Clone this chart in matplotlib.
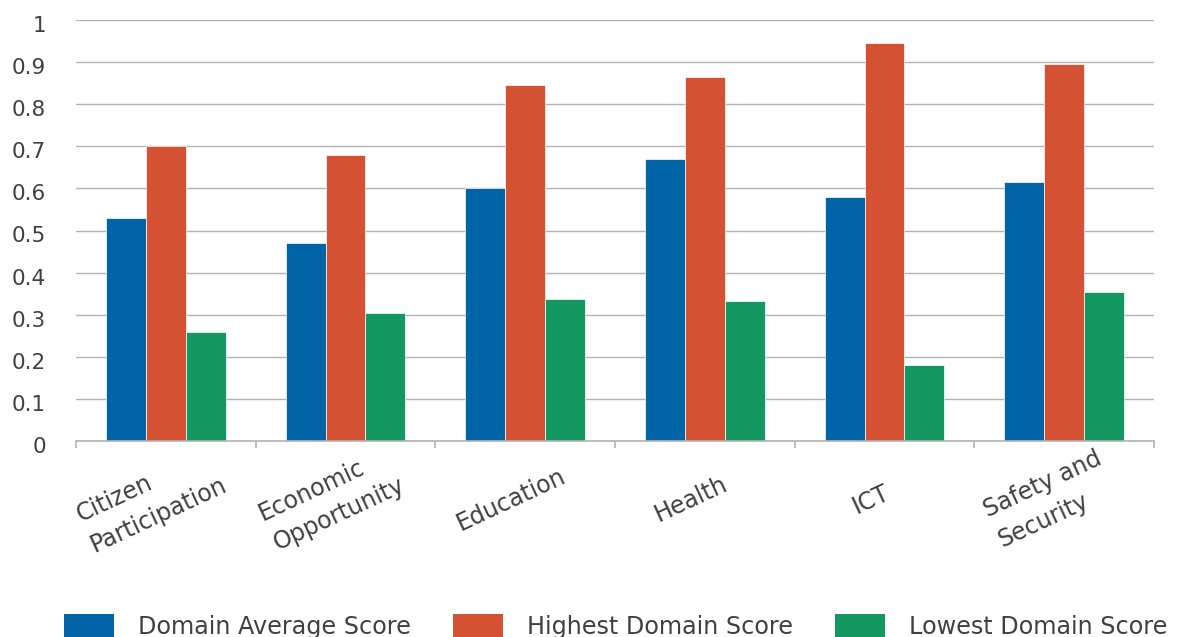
import matplotlib
matplotlib.use("Agg")
import matplotlib.pyplot as plt
import matplotlib.transforms as mtransforms
from matplotlib.patches import Patch
import numpy as np

categories = ["Citizen\nParticipation", "Economic\nOpportunity", "Education",
              "Health", "ICT", "Safety and\nSecurity"]
avg_scores = [0.53, 0.47, 0.60, 0.67, 0.58, 0.615]
high_scores = [0.70, 0.68, 0.845, 0.865, 0.945, 0.895]
low_scores = [0.26, 0.305, 0.337, 0.333, 0.18, 0.355]
series_names = ["Domain Average Score", "Highest Domain Score", "Lowest Domain Score"]
y_ticks = [0, 0.1, 0.2, 0.3, 0.4, 0.5, 0.6, 0.7, 0.8, 0.9, 1]
y_tick_labels = ["0", "0.1", "0.2", "0.3", "0.4", "0.5", "0.6", "0.7", "0.8", "0.9", "1"]

colors = ["#0064A7", "#D45233", "#139862"]
text_color = "#404040"
grid_color = "#B3B3B3"

plt.rcParams['font.family'] = ['DejaVu Sans']

fig = plt.figure(figsize=(11.85, 6.37), dpi=100)
ax = fig.add_axes([76/1185, 1-441/637, (1154-76)/1185, (441-20)/637])

x = np.arange(len(categories))
w = 0.2226
series = [avg_scores, high_scores, low_scores]
for k, (vals, col) in enumerate(zip(series, colors)):
    ax.bar(x + (k-1)*w, vals, width=w, color=col, edgecolor="white",
           linewidth=0.5, zorder=3)

ax.set_xlim(-0.5, len(categories)-0.5)
ax.set_ylim(0, 1.0)
ax.set_yticks(y_ticks)
ax.set_yticklabels(y_tick_labels)
ax.yaxis.grid(True, color=grid_color, linewidth=1.0, zorder=0)
ax.set_axisbelow(True)
for s in ["top", "right", "left"]:
    ax.spines[s].set_visible(False)
ax.spines["bottom"].set_color(grid_color)
ax.spines["bottom"].set_linewidth(1.2)
ax.spines["bottom"].set_zorder(4)

ax.tick_params(axis="y", length=0, pad=21.6, labelsize=15.5, labelcolor=text_color)
yoff = mtransforms.ScaledTranslation(0, -4/100, fig.dpi_scale_trans)
for lab in ax.get_yticklabels():
    lab.set_transform(lab.get_transform() + yoff)

ax.set_xticks(x)
ax.set_xticklabels(categories, rotation=25, ha="center", va="center",
                   fontsize=17, color=text_color, linespacing=1.5,
                   multialignment="left")
ax.tick_params(axis="x", length=0, pad=42)
ax.set_xticks(np.arange(-0.5, len(categories), 1), minor=True)
ax.tick_params(axis="x", which="minor", length=5, width=1.2, color=grid_color)

offset = mtransforms.ScaledTranslation(-14/100, 0, fig.dpi_scale_trans)
for lab in ax.get_xticklabels():
    lab.set_transform(lab.get_transform() + offset)

handles = [Patch(facecolor=c, edgecolor="none") for c in colors]
leg = fig.legend(handles, series_names, loc="upper left",
                 bbox_to_anchor=(64/1185, 1-614/637), ncol=3, frameon=False,
                 fontsize=17.2, handlelength=2.1, handleheight=1.2,
                 handletextpad=1.0, columnspacing=1.75,
                 borderpad=0, borderaxespad=0, labelcolor=text_color)

fig.savefig("out.png", dpi=100)
